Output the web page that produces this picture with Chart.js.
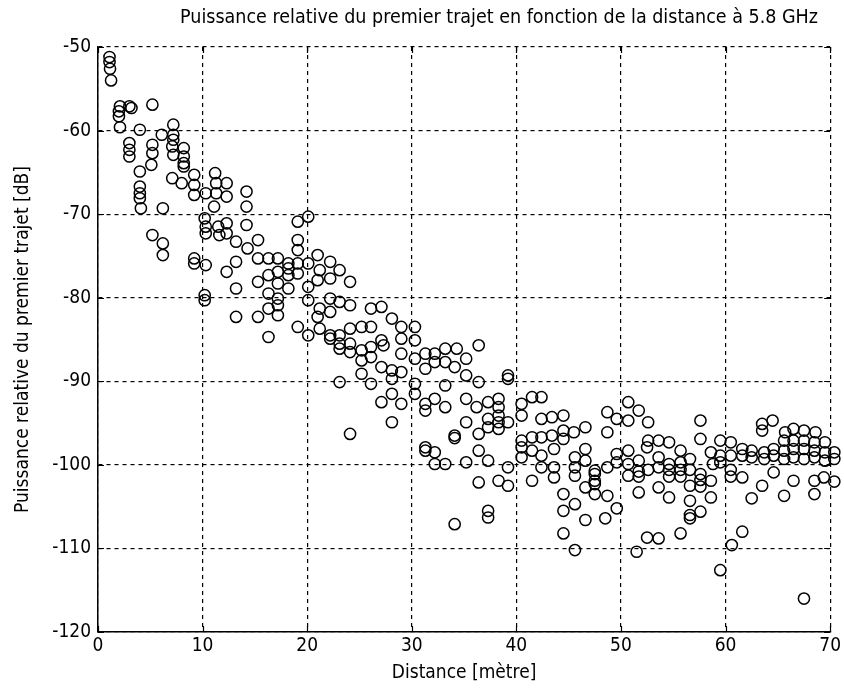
<!DOCTYPE html>
<html>
<head>
<meta charset="utf-8">
<script src="https://cdn.jsdelivr.net/npm/chart.js@4"></script>
<style>
  html, body { margin: 0; padding: 0; background: #fff; }
  #wrap { width: 844px; height: 692px; position: relative; }
</style>
</head>
<body>
<div id="wrap"><canvas id="c" width="844" height="692"></canvas></div>
<script>
// ---- Data (distance in m, relative power in dB) ----
const distance = [
  1.1,1.1,1.15,1.25,2.1,2.0,2.0,2.1,3.0,3.2,5.2,4.0,3.0,3.0,3.0,5.2,5.2,5.1,6.1,7.2,
  7.2,7.2,7.1,7.2,8.2,8.2,8.2,8.2,4.0,4.0,4.0,4.0,4.1,6.2,7.1,8.0,9.2,9.2,9.2,10.3,
  11.2,11.3,11.3,11.1,10.3,10.3,11.5,11.6,5.2,6.2,6.2,9.2,10.3,
  14.2,10.2,12.3,12.3,14.2,13.2,14.3,15.3,9.2,13.2,12.3,15.3,16.3,17.2,18.2,15.3,16.3,
  17.2,17.2,18.2,18.2,16.3,17.2,13.2,10.2,10.2,16.3,17.2,17.2,15.3,13.2,16.3,19.1,20.1,
  19.1,20.1,20.1,20.1,20.1,21.0,21.0,21.0,18.2,14.2,12.3,12.3,19.1,19.1,19.1,19.1,
  22.2,21.2,23.1,22.2,24.1,22.2,23.1,24.1,21.2,22.2,26.1,27.1,28.1,21.2,22.2,23.1,24.1,
  25.2,26.1,29.0,30.3,29.0,30.3,22.2,23.1,23.1,24.1,24.1,25.2,26.1,27.1,27.3,25.2,26.1,
  25.2,27.1,28.1,29.0,29.0,30.3,31.3,31.3,28.1,26.1,23.1,28.1,27.1,29.0,30.3,30.3,31.3,
  31.3,28.1,24.1,31.3,31.3,
  32.2,33.2,34.3,35.2,36.4,32.2,33.2,34.1,35.2,36.4,33.2,39.2,39.2,32.2,33.2,35.2,36.2,
  37.3,38.3,38.3,38.3,38.3,38.3,37.3,37.3,39.2,40.5,40.5,41.5,35.2,36.4,34.1,34.1,32.2,
  32.2,33.2,35.2,36.4,37.3,39.2,40.5,40.5,40.5,41.5,41.5,36.4,38.3,39.2,37.3,37.3,34.1,
  42.4,42.4,43.4,44.5,46.6,45.5,44.5,42.4,43.4,44.5,41.5,42.4,43.6,42.4,43.6,43.6,45.6,
  45.6,45.6,46.6,46.6,47.5,47.5,47.5,47.5,47.5,46.6,48.7,49.6,49.6,50.7,50.7,50.7,51.7,
  51.7,51.7,48.7,44.5,44.5,45.6,46.6,48.5,49.6,44.5,45.6,48.7,48.7,49.6,50.7,50.7,51.7,
  52.6,52.6,52.5,51.5,
  52.5,53.6,54.6,55.7,56.6,57.6,57.6,58.6,59.5,60.5,51.7,52.6,53.6,53.6,54.6,54.6,54.6,
  55.7,55.7,55.7,56.6,56.6,57.6,57.6,57.6,58.6,58.6,58.8,59.5,59.5,60.5,60.5,60.5,53.6,
  54.6,56.6,57.6,56.6,56.6,55.7,53.6,60.6,59.5,61.6,
  64.5,63.5,63.5,65.7,66.5,67.5,68.6,69.5,65.6,66.5,67.5,68.5,61.6,62.5,63.7,64.6,65.6,
  66.5,67.5,68.5,69.5,70.4,61.6,62.5,63.7,64.6,65.6,66.5,67.5,68.5,69.5,70.4,61.6,63.5,
  64.6,66.5,68.5,68.5,69.4,70.4,62.5,65.6,67.5
];
const puissance = [
  -51.2,-51.8,-52.6,-54.0,-57.1,-57.7,-58.3,-59.6,-57.1,-57.3,-56.9,-59.9,-61.5,-62.3,-63.1,-61.7,-62.7,-64.1,-60.5,-59.3,
  -60.5,-61.1,-61.9,-62.9,-62.1,-63.1,-63.9,-64.3,-64.9,-66.7,-67.5,-68.1,-69.3,-69.3,-65.7,-66.3,-65.3,-66.5,-67.7,-67.5,
  -65.1,-66.3,-67.5,-69.1,-71.5,-72.3,-71.5,-72.5,-72.5,-73.5,-74.9,-75.3,-76.1,
  -69.1,-70.5,-71.1,-72.3,-71.3,-73.3,-74.1,-73.1,-75.9,-75.7,-76.9,-75.3,-75.3,-75.3,-75.9,-78.1,-77.3,
  -76.9,-78.3,-77.3,-78.9,-79.5,-80.1,-78.9,-79.7,-80.3,-81.3,-80.9,-82.1,-82.3,-82.3,-84.7,-83.5,-84.5,
  -70.9,-70.3,-75.9,-78.7,-80.3,-74.9,-77.9,-82.3,-76.5,-67.3,-66.3,-67.9,-73.1,-74.3,-75.9,-77.1,
  -75.7,-76.7,-76.7,-77.7,-78.1,-80.1,-80.5,-80.9,-81.3,-81.7,-81.3,-81.1,-82.5,-83.7,-84.5,-84.5,-83.7,
  -83.5,-83.5,-83.5,-83.5,-84.9,-85.1,-84.9,-85.5,-86.1,-85.5,-86.5,-86.3,-85.9,-85.1,-85.7,-87.5,-87.1,
  -89.1,-88.3,-88.7,-86.7,-88.9,-87.3,-86.7,-88.5,-89.7,-90.3,-90.1,-91.5,-92.5,-92.7,-90.3,-91.5,-92.7,
  -93.5,-94.9,-96.3,-97.9,-98.3,
  -86.7,-86.1,-86.1,-87.3,-85.7,-87.7,-87.7,-88.3,-89.3,-90.1,-90.5,-89.3,-89.7,-92.1,-93.1,-92.1,-93.1,
  -92.5,-92.1,-93.1,-94.1,-94.9,-95.7,-94.5,-95.5,-94.9,-92.7,-94.1,-91.9,-94.9,-96.3,-96.5,-96.8,-98.5,
  -99.9,-99.9,-99.7,-98.3,-99.5,-100.3,-97.1,-97.9,-99.1,-96.7,-101.9,-102.1,-101.9,-102.5,-105.5,-106.3,-107.1,
  -91.9,-94.5,-94.3,-94.1,-95.5,-96.1,-95.9,-96.7,-96.5,-96.9,-98.3,-98.9,-98.1,-100.3,-100.3,-101.5,-99.1,
  -100.3,-101.3,-98.1,-99.5,-100.7,-101.1,-101.9,-102.3,-103.5,-102.7,-100.3,-98.7,-99.7,-98.3,-99.9,-101.3,-99.5,
  -100.8,-103.3,-103.7,-103.5,-105.5,-104.7,-106.6,-106.4,-105.2,-108.2,-110.2,-93.7,-96.1,-94.5,-92.5,-94.7,-93.5,
  -94.9,-97.1,-108.7,-110.4,
  -97.9,-97.1,-97.3,-98.3,-99.3,-94.7,-96.9,-98.5,-97.1,-97.3,-101.4,-100.6,-99.1,-100.3,-99.9,-100.6,-101.4,
  -99.7,-100.6,-101.4,-100.6,-102.5,-101.1,-101.8,-102.6,-101.9,-103.9,-99.9,-98.9,-99.7,-98.9,-100.6,-101.4,-102.7,
  -103.9,-104.3,-105.6,-106.0,-106.4,-108.2,-108.8,-109.6,-112.6,-108.0,
  -94.7,-95.1,-95.9,-96.1,-95.7,-95.9,-96.1,-97.3,-97.1,-97.1,-97.1,-97.3,-98.1,-98.3,-98.5,-98.1,-98.3,
  -98.1,-98.1,-98.3,-98.5,-98.5,-98.9,-99.1,-99.3,-98.9,-99.3,-99.1,-99.3,-99.1,-99.5,-99.3,-101.5,-102.5,
  -100.9,-101.9,-101.9,-103.5,-101.5,-102.0,-104.0,-103.7,-116.0
];
const xTicks = [0, 10, 20, 30, 40, 50, 60, 70];
const yTicks = [-120, -110, -100, -90, -80, -70, -60, -50];
const titleText = 'Puissance relative du premier trajet en fonction de la distance à 5.8 GHz';
const xTitle = 'Distance [mètre]';
const yTitle = 'Puissance relative du premier trajet [dB]';

const FONT = '"Liberation Sans Narrow", "DejaVu Sans Condensed", "Arial Narrow", sans-serif';
const points = distance.map((d, i) => ({ x: d, y: puissance[i] }));

// inward tick marks on all four sides (MATLAB style) + title text
const decorations = {
  id: 'decorations',
  afterDatasetsDraw(chart) {
    const { ctx, chartArea: a, scales: { x, y } } = chart;
    const L = 6;
    ctx.save();
    ctx.strokeStyle = '#000';
    ctx.lineWidth = 1.2;
    ctx.beginPath();
    xTicks.forEach(v => {
      const px = Math.round(x.getPixelForValue(v)) + 0.5;
      ctx.moveTo(px, a.bottom); ctx.lineTo(px, a.bottom - L);
      ctx.moveTo(px, a.top); ctx.lineTo(px, a.top + L);
    });
    yTicks.forEach(v => {
      const py = Math.round(y.getPixelForValue(v)) + 0.5;
      ctx.moveTo(a.left, py); ctx.lineTo(a.left + L, py);
      ctx.moveTo(a.right, py); ctx.lineTo(a.right - L, py);
    });
    ctx.stroke();
    // chart title
    ctx.fillStyle = '#000';
    ctx.font = '19.5px ' + FONT;
    ctx.textAlign = 'center';
    ctx.textBaseline = 'middle';
    ctx.fillText(titleText, 499, 18);
    ctx.restore();
  }
};

new Chart(document.getElementById('c'), {
  type: 'scatter',
  data: {
    datasets: [{
      data: points,
      pointStyle: 'circle',
      pointRadius: 5.6,
      pointBorderWidth: 1.5,
      pointBorderColor: '#000',
      pointBackgroundColor: 'rgba(0,0,0,0)',
      clip: false
    }]
  },
  options: {
    responsive: false,
    animation: false,
    events: [],
    layout: { padding: { left: 0, right: 12, top: 47, bottom: 0 } },
    plugins: {
      legend: { display: false },
      tooltip: { enabled: false },
      title: { display: false }
    },
    scales: {
      x: {
        type: 'linear',
        min: 0, max: 70,
        afterFit: s => { s.height = 60; },
        afterBuildTicks: s => { s.ticks = xTicks.map(v => ({ value: v })); },
        ticks: { color: '#000', font: { family: FONT, size: 19 }, padding: 3, maxRotation: 0 },
        grid: { color: '#000', lineWidth: 1.2, drawTicks: false },
        border: { display: true, color: '#000', width: 1.5, dash: [4, 4] },
        title: { display: true, text: xTitle, color: '#000', font: { family: FONT, size: 19 }, padding: { top: 0, bottom: 8 } }
      },
      y: {
        type: 'linear',
        min: -120, max: -50,
        afterFit: s => { s.width = 98; },
        afterBuildTicks: s => { s.ticks = yTicks.map(v => ({ value: v })); },
        ticks: { color: '#000', font: { family: FONT, size: 19 }, padding: 7 },
        grid: { color: '#000', lineWidth: 1.2, drawTicks: false },
        border: { display: true, color: '#000', width: 1.5, dash: [4, 4] },
        title: { display: true, text: yTitle, color: '#000', font: { family: FONT, size: 19 }, padding: { top: 12, bottom: 0 } }
      }
    }
  },
  plugins: [decorations]
});
</script>
</body>
</html>
